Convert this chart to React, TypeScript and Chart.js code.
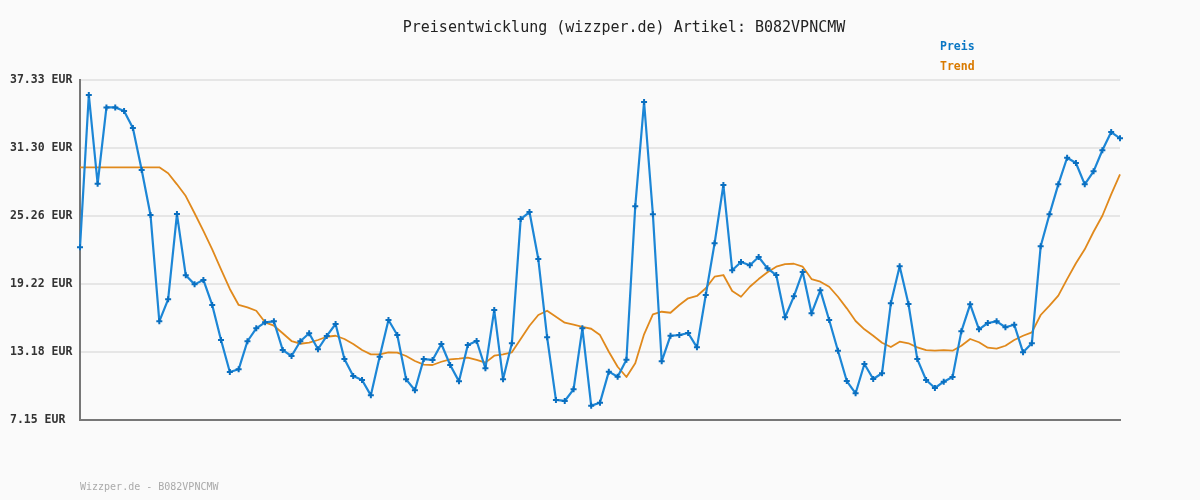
import React, { useEffect, useRef } from "react";
import { Chart, registerables } from "chart.js";

Chart.register(...registerables);

const preis = [
  22.48, 36.0, 28.12, 34.9, 34.9, 34.58, 33.07, 29.34, 25.35, 15.91,
  17.86, 25.43, 19.99, 19.19, 19.58, 17.36, 14.25, 11.41, 11.65, 14.14,
  15.29, 15.82, 15.91, 13.36, 12.83, 14.14, 14.85, 13.43, 14.61, 15.67,
  12.56, 11.06, 10.7, 9.34, 12.77, 16.03, 14.69, 10.76, 9.79, 12.56,
  12.48, 13.9, 12.03, 10.58, 13.81, 14.16, 11.74, 16.91, 10.76, 13.96,
  24.99, 25.61, 21.44, 14.49, 8.93, 8.84, 9.87, 15.29, 8.42, 8.69,
  11.44, 10.99, 12.5, 26.12, 35.38, 25.41, 12.36, 14.63, 14.69, 14.87,
  13.6, 18.25, 22.83, 28.01, 20.44, 21.17, 20.88, 21.62, 20.61, 20.02,
  16.27, 18.13, 20.29, 16.62, 18.66, 16.03, 13.3, 10.61, 9.52, 12.12,
  10.79, 11.3, 17.51, 20.79, 17.45, 12.56, 10.7, 9.99, 10.55, 10.97,
  15.02, 17.42, 15.2, 15.76, 15.91, 15.38, 15.61, 13.16, 13.96, 22.57,
  25.41, 28.07, 30.43, 29.96, 28.07, 29.22, 31.09, 32.71, 32.15,
];

const trend = [
  29.58, 29.58, 29.58, 29.58, 29.58, 29.58, 29.58, 29.58, 29.58, 29.58,
  29.05, 28.07, 27.03, 25.5, 23.93, 22.3, 20.53, 18.78, 17.36, 17.15,
  16.85, 15.82, 15.52, 14.85, 14.16, 13.92, 14.01, 14.25, 14.54, 14.63,
  14.34, 13.9, 13.36, 12.98, 12.98, 13.16, 13.13, 12.83, 12.39, 12.07,
  12.03, 12.32, 12.54, 12.59, 12.68, 12.48, 12.24, 12.86, 12.98, 13.16,
  14.34, 15.52, 16.47, 16.85, 16.32, 15.79, 15.61, 15.42, 15.25, 14.69,
  13.21, 11.88, 10.97, 12.18, 14.76, 16.53, 16.76, 16.67, 17.36, 17.95,
  18.16, 18.84, 19.87, 20.02, 18.6, 18.09, 18.98, 19.66, 20.26, 20.76,
  20.99, 21.02, 20.76, 19.66, 19.43, 18.98, 18.09, 17.06, 15.94, 15.2,
  14.63, 14.01, 13.63, 14.1, 13.96, 13.6, 13.36, 13.3, 13.36, 13.3,
  13.74, 14.34, 14.05, 13.57, 13.48, 13.74, 14.25, 14.63, 14.93, 16.47,
  17.3, 18.19, 19.66, 21.06, 22.3, 23.86, 25.28, 27.18, 28.96,
];

const categories = preis.map((_, i) => String(i + 1));

const tickValues = [7.15, 13.18, 19.22, 25.26, 31.3, 37.33];
const tickLabels = ["7.15 EUR", "13.18 EUR", "19.22 EUR", "25.26 EUR", "31.30 EUR", "37.33 EUR"];

const titleText = "Preisentwicklung (wizzper.de) Artikel: B082VPNCMW";
const legendLabels = ["Preis", "Trend"];
const footerText = "Wizzper.de - B082VPNCMW";

const MONO = '"DejaVu Sans Mono", "Liberation Mono", monospace';
const BLUE_LINE = "#1c86d6";
const BLUE_POINT = "#0a6fc0";
const BLUE_TEXT = "#0a77c4";
const ORANGE_LINE = "#e0891c";
const ORANGE_TEXT = "#d97a00";

const textPlugin = {
  id: "textPlugin",
  afterDraw(chart: any) {
    const ctx = chart.ctx;
    ctx.save();
    ctx.textBaseline = "middle";
    ctx.fillStyle = "#222";
    ctx.font = `15px ${MONO}`;
    ctx.textAlign = "center";
    ctx.fillText(titleText, 624, 28);
    ctx.textAlign = "left";
    ctx.font = `bold 11.5px ${MONO}`;
    ctx.fillStyle = BLUE_TEXT;
    ctx.fillText(legendLabels[0], 940, 47);
    ctx.fillStyle = ORANGE_TEXT;
    ctx.fillText(legendLabels[1], 940, 67);
    ctx.font = `10px ${MONO}`;
    ctx.fillStyle = "#aaa";
    ctx.fillText(footerText, 80, 487);
    ctx.restore();
  },
};

export default function App() {
  const ref = useRef<HTMLCanvasElement | null>(null);
  useEffect(() => {
    document.body.style.margin = "0";
    document.body.style.background = "#fafafa";
    const canvas = ref.current;
    if (!canvas) return;
    const chart = new Chart(canvas, {
      type: "line",
      data: {
        labels: categories,
        datasets: [
          {
            label: legendLabels[0],
            data: preis,
            borderColor: BLUE_LINE,
            borderWidth: 2.2,
            borderJoinStyle: "round",
            pointStyle: "cross",
            pointRadius: 3,
            pointBorderWidth: 2,
            pointBorderColor: BLUE_POINT,
            pointBackgroundColor: BLUE_POINT,
            tension: 0,
            fill: false,
          },
          {
            label: legendLabels[1],
            data: trend,
            borderColor: ORANGE_LINE,
            borderWidth: 1.8,
            borderJoinStyle: "round",
            pointRadius: 0,
            tension: 0,
            fill: false,
          },
        ],
      },
      options: {
        responsive: false,
        animation: false,
        layout: { padding: { left: 10, right: 80, top: 80, bottom: 80 } },
        plugins: {
          legend: { display: false },
          title: { display: false },
          tooltip: { enabled: false },
        },
        scales: {
          x: {
            type: "category",
            offset: false,
            grid: { display: false },
            border: { display: true, color: "#777", width: 2 },
            ticks: { display: false },
            afterFit: (s: any) => {
              s.height = 0;
            },
          },
          y: {
            min: 7.15,
            max: 37.33,
            afterBuildTicks: (s: any) => {
              s.ticks = tickValues.map((v) => ({ value: v }));
            },
            afterFit: (s: any) => {
              s.width = 70;
            },
            grid: { color: "#e6e6e6", lineWidth: 2, drawTicks: false },
            border: { display: true, color: "#777", width: 2 },
            ticks: {
              crossAlign: "far",
              padding: 0,
              color: "#333",
              font: { family: MONO, size: 11.5, weight: "bold" },
              callback: (_v: any, i: number) => tickLabels[i],
            },
          },
        },
      },
      plugins: [textPlugin],
    });
    return () => chart.destroy();
  }, []);
  return (
    <div style={{ width: 1200, height: 500, background: "#fafafa" }}>
      <canvas ref={ref} width={1200} height={500} style={{ display: "block", width: 1200, height: 500 }} />
    </div>
  );
}
